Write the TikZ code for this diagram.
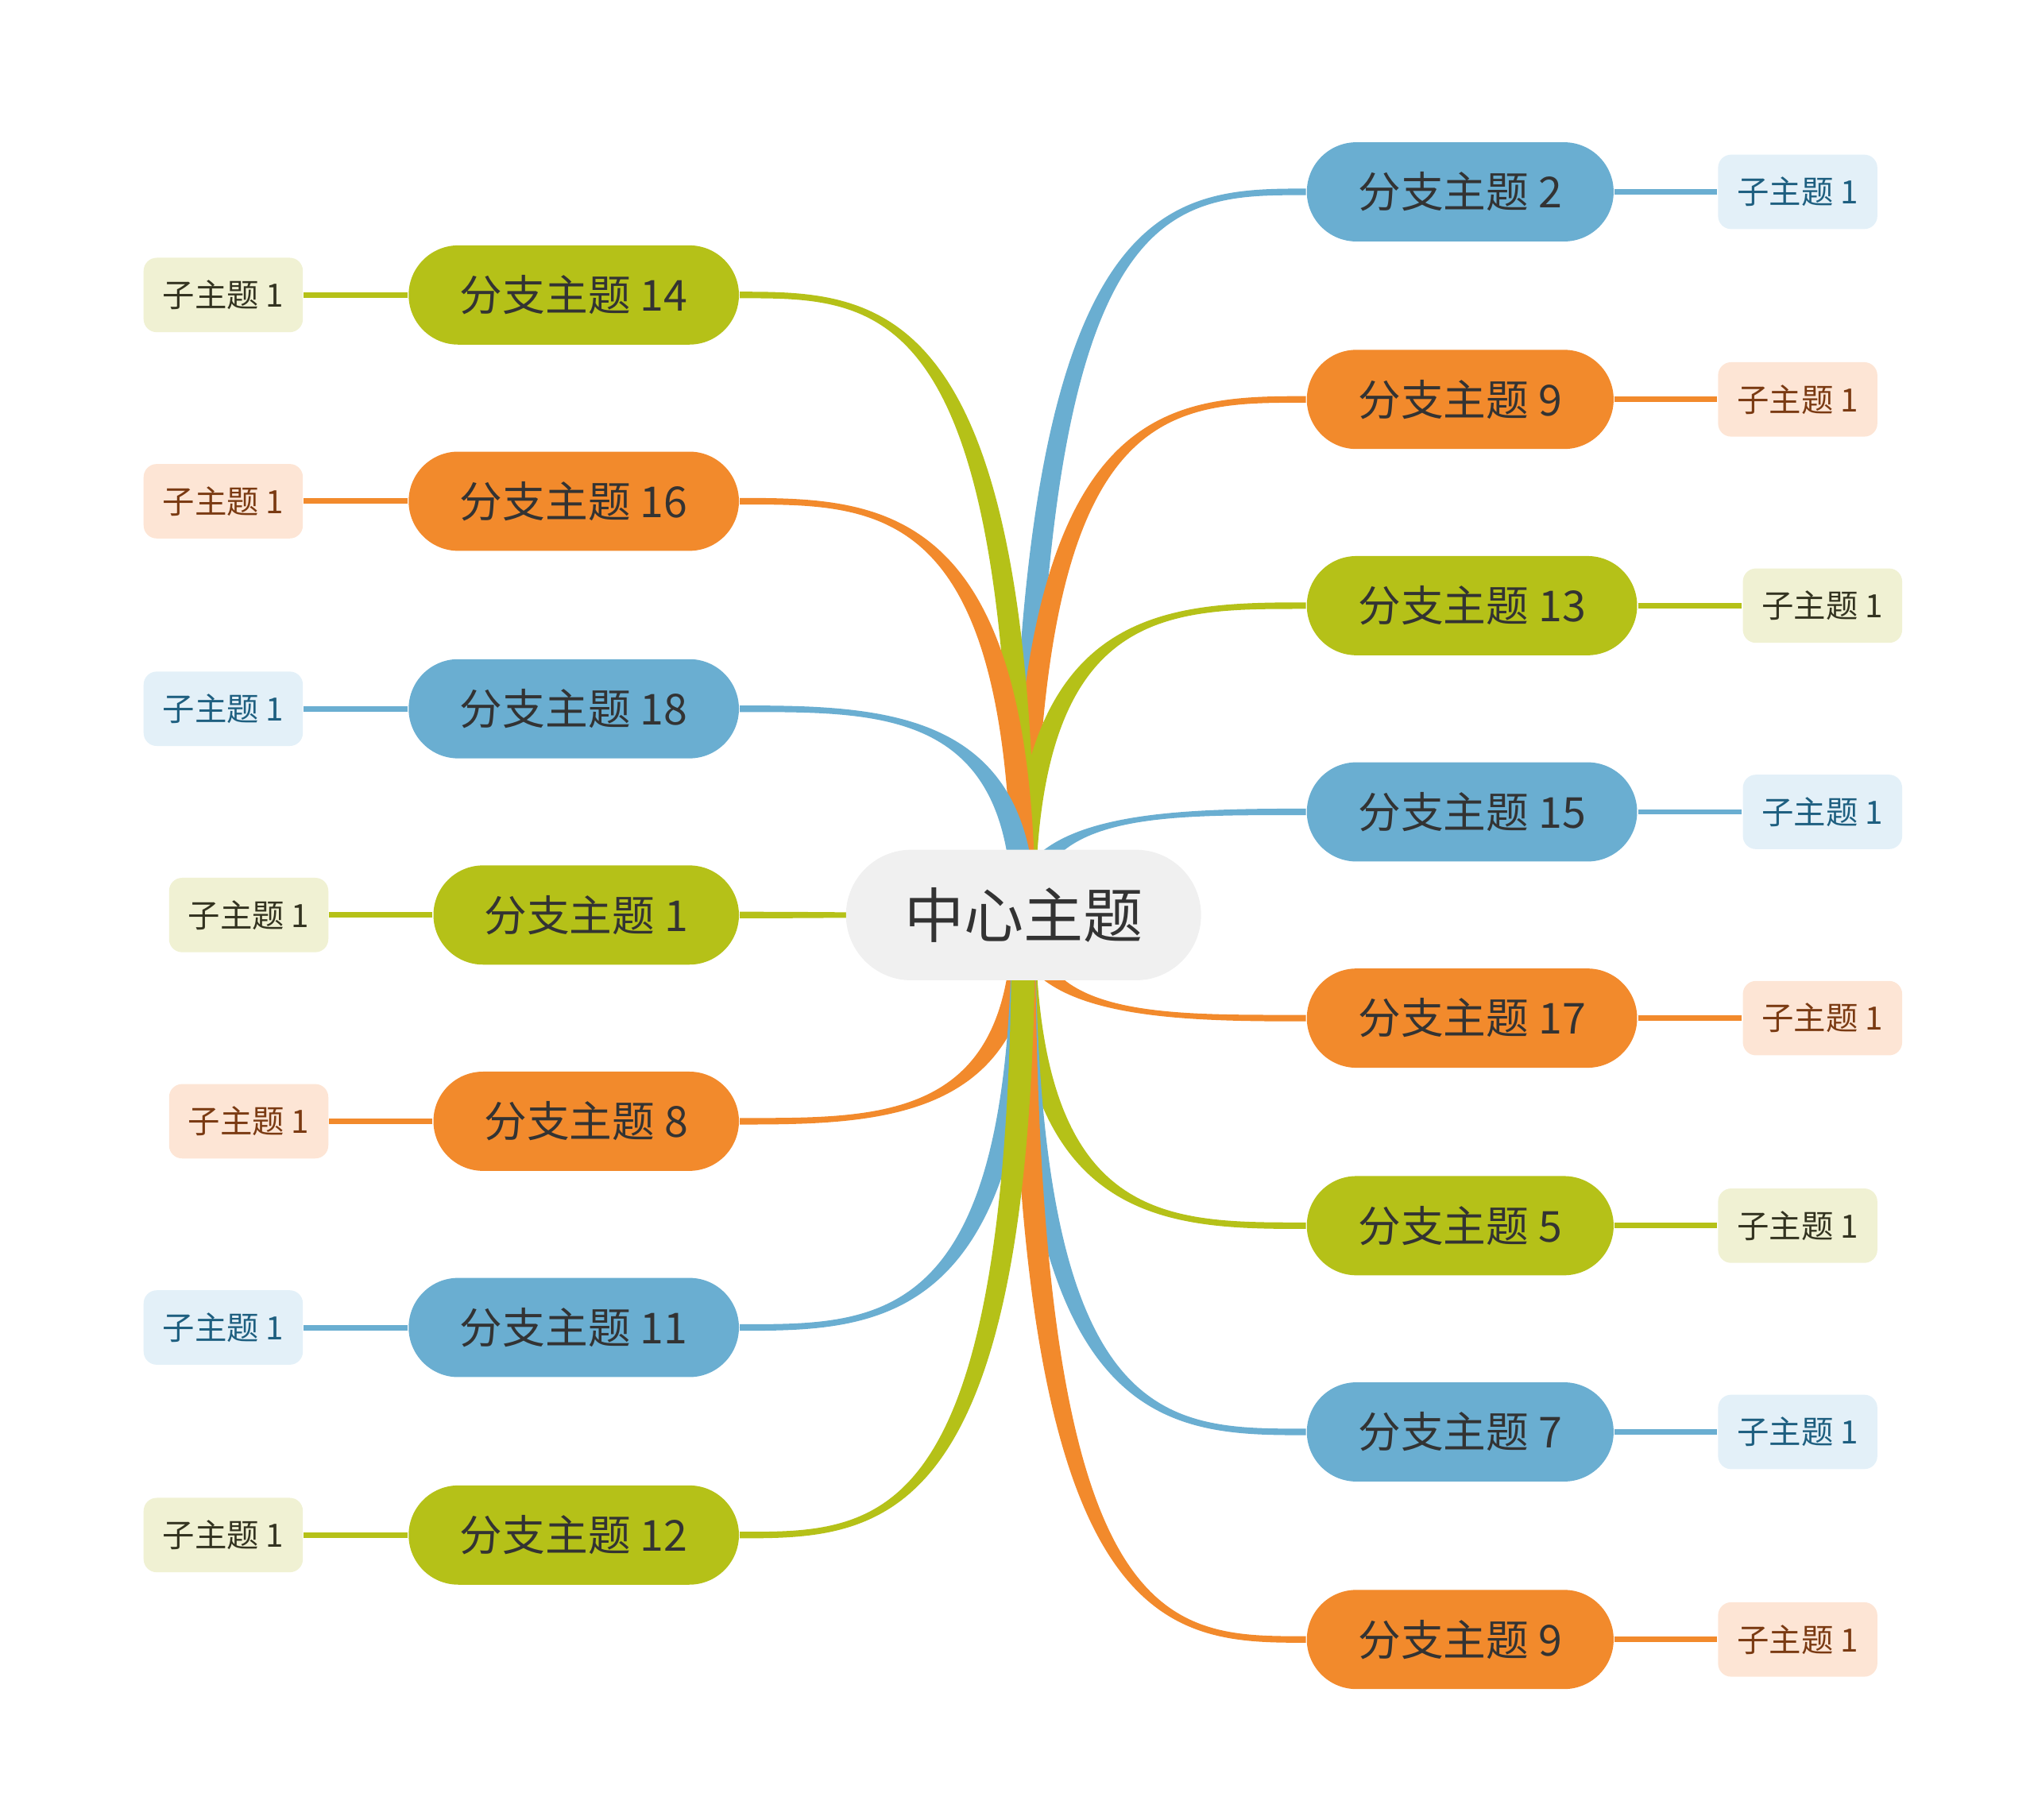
\documentclass[tikz,border=0pt]{standalone}
\usepackage{fontspec}
\setmainfont{Noto Sans CJK SC}
\usetikzlibrary{calc}
\pgfdeclarelayer{bg}
\pgfsetlayers{bg,main}
\definecolor{tblue}{HTML}{6AAED1}
\definecolor{torange}{HTML}{F28A2C}
\definecolor{tgreen}{HTML}{B5C118}
\definecolor{lblue}{HTML}{E3F0F8}
\definecolor{lorange}{HTML}{FDE5D5}
\definecolor{lgreen}{HTML}{F0F1D3}
\definecolor{dblue}{HTML}{1E5F80}
\definecolor{dorange}{HTML}{7A3A12}
\definecolor{dgreen}{HTML}{333320}
\tikzset{
  branch/.style={rounded corners=0.38cm, minimum height=0.76cm, inner sep=0pt,
    text=black!80, font=\fontsize{9.3}{11}\selectfont},
  leaf/.style={rounded corners=0.1cm, minimum height=0.57cm, minimum width=1.22cm,
    inner sep=0pt, font=\fontsize{7}{8}\selectfont},
}
% tapered connector: colour, end point, x offset at start, end y, middle x
\newcommand{\twig}[5]{%
  \fill[#1] ($(S)+(#3,0)$) .. controls (7.84+#3,#4) and (#5,#4+0.025) ..
    ($(#2)+(0,0.025)$) -- ($(#2)+(0,-0.025)$) .. controls (#5,#4-0.025) and (7.84-#3,#4) ..
    ($(S)+(-#3,0)$) -- cycle;}
\begin{document}
\begin{tikzpicture}
  \useasboundingbox (0,0) rectangle (15.58,13.94);
  \coordinate (S) at (7.84,6.93);
  \node[branch, fill=black!6!white, minimum width=2.72cm, minimum height=1cm,
    rounded corners=0.5cm, font=\fontsize{13}{15}\selectfont] (c) at (S) {中心主题};
  % right side
  \foreach \nm/\x/\y/\w/\cl/\lb/\sx in {r2/11.185/12.47/2.35/blue/2/13.77,
      r9/11.185/10.88/2.35/orange/9/13.77, r13/11.275/9.30/2.53/green/13/13.96,
      r15/11.275/7.72/2.53/blue/15/13.96, r17/11.275/6.14/2.53/orange/17/13.96,
      r5/11.185/4.55/2.35/green/5/13.77, r7/11.185/2.97/2.35/blue/7/13.77,
      r9b/11.185/1.38/2.35/orange/9/13.77}{
    \node[branch, fill=t\cl, minimum width=\w cm] (\nm) at (\x,\y) {分支主题 \lb};
    \node[leaf, fill=l\cl, text=d\cl] (\nm s) at (\sx,\y) {子主题 1};
    \pgfmathsetmacro\dx{-0.09*sign(\y-6.93)}
    \pgfmathsetmacro\xm{(7.84+\x-\w/2)/2}
    \begin{pgfonlayer}{bg}
      \twig{t\cl}{\nm.west}{\dx}{\y}{\xm}
      \draw[t\cl, line width=1.2pt] (\nm.east) -- (\nm s.west);
    \end{pgfonlayer}
  }
  % left side
  \foreach \nm/\x/\y/\w/\cl/\lb/\sx in {l14/4.395/11.68/2.53/green/14/1.71,
      l16/4.395/10.10/2.53/orange/16/1.71, l18/4.395/8.51/2.53/blue/18/1.71,
      l1/4.49/6.93/2.34/green/1/1.905, l8/4.49/5.35/2.34/orange/8/1.905,
      l11/4.395/3.77/2.53/blue/11/1.71, l12/4.395/2.18/2.53/green/12/1.71}{
    \node[branch, fill=t\cl, minimum width=\w cm] (\nm) at (\x,\y) {分支主题 \lb};
    \node[leaf, fill=l\cl, text=d\cl] (\nm s) at (\sx,\y) {子主题 1};
    \pgfmathsetmacro\dx{0.09*sign(\y-6.93)}
    \pgfmathsetmacro\xm{(7.84+\x+\w/2)/2}
    \begin{pgfonlayer}{bg}
      \twig{t\cl}{\nm.east}{\dx}{\y}{\xm}
      \draw[t\cl, line width=1.2pt] (\nm.west) -- (\nm s.east);
    \end{pgfonlayer}
  }
\end{tikzpicture}
\end{document}
